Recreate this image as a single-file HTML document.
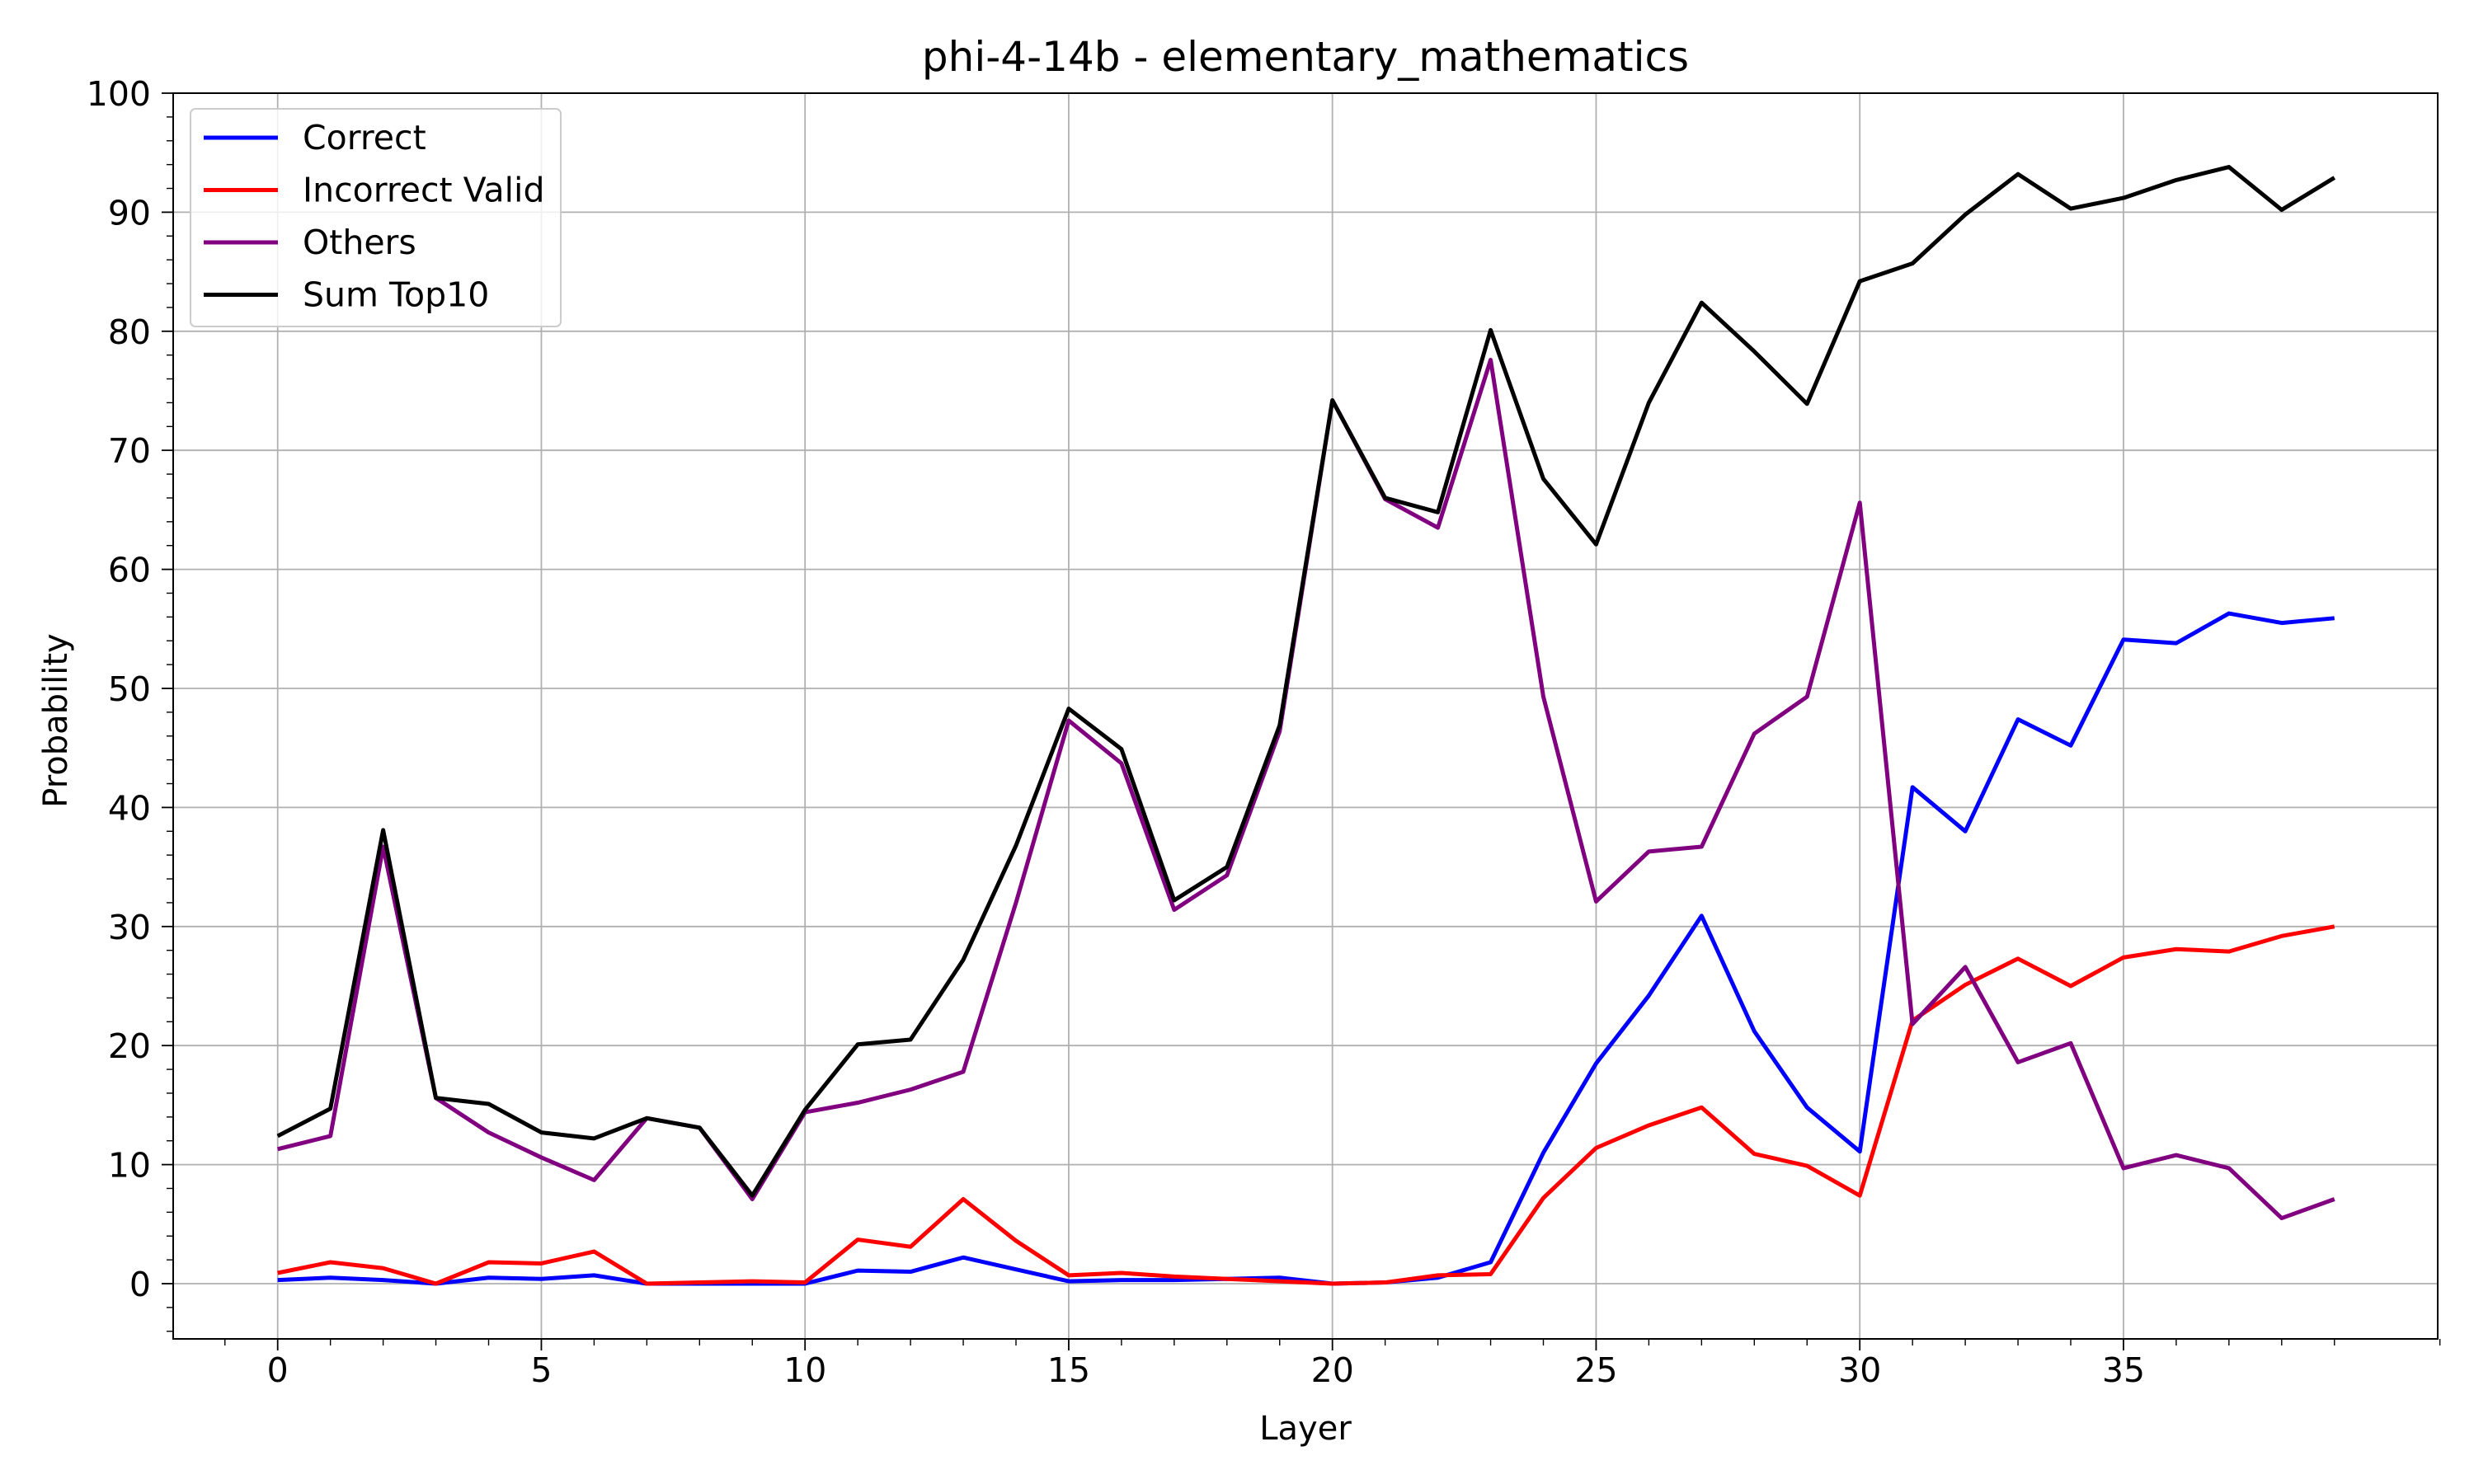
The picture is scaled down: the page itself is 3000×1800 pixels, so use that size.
<!DOCTYPE html>
<html><head><meta charset="utf-8"><style>
html,body{margin:0;padding:0;background:#fff;}
svg{display:block;font-family:"DejaVu Sans","Liberation Sans",sans-serif;}
</style></head><body>
<svg id="chart" width="3000" height="1800" viewBox="0 0 3000 1800" xmlns="http://www.w3.org/2000/svg">
<rect width="3000" height="1800" fill="#fff"/>
<g id="grid"></g>
<g id="series"></g>
<rect x="210" y="113" width="2746" height="1511" fill="none" stroke="#000" stroke-width="2"/>
<g id="ticks"></g>
<text x="1583" y="86" font-size="50" text-anchor="middle">phi-4-14b - elementary_mathematics</text>
<text x="1583" y="1746" font-size="40" text-anchor="middle">Layer</text>
<text x="0" y="0" font-size="40" text-anchor="middle" transform="translate(81,874) rotate(-90)">Probability</text>
<g id="legend"></g>
</svg>
<script>
const layers = Array.from({length:40},(_,i)=>i);
const correct = [0.3,0.5,0.3,0,0.5,0.4,0.7,0,0,0,0,1.1,1.0,2.2,1.2,0.2,0.3,0.3,0.4,0.5,0,0.1,0.5,1.8,11,18.5,24.2,30.9,21.2,14.8,11.1,41.7,38,47.4,45.2,54.1,53.8,56.3,55.5,55.9];
const incorrectValid = [0.9,1.8,1.3,0,1.8,1.7,2.7,0,0.1,0.2,0.1,3.7,3.1,7.1,3.6,0.7,0.9,0.6,0.4,0.2,0,0.1,0.7,0.8,7.2,11.4,13.3,14.8,10.9,9.9,7.4,22.1,25.1,27.3,25,27.4,28.1,27.9,29.2,30];
const others = [11.3,12.4,36.7,15.6,12.7,10.6,8.7,13.9,13.1,7.1,14.4,15.2,16.3,17.8,32,47.3,43.7,31.4,34.3,46.4,74.2,65.9,63.5,77.6,49.3,32.1,36.3,36.7,46.2,49.3,65.6,21.8,26.6,18.6,20.2,9.7,10.8,9.7,5.5,7.1];
const sumTop10 = [12.4,14.7,38.1,15.6,15.1,12.7,12.2,13.9,13.1,7.4,14.6,20.1,20.5,27.2,36.8,48.3,44.9,32.2,35,46.9,74.2,66,64.8,80.1,67.6,62.1,74,82.4,78.3,73.9,84.2,85.7,89.8,93.2,90.3,91.2,92.7,93.8,90.2,92.9];
const xTicks = [0,5,10,15,20,25,30,35];
const yTicks = [0,10,20,30,40,50,60,70,80,90,100];

const NS="http://www.w3.org/2000/svg";
const X0=336.7, XS=63.95, Y0=1557, YS=14.44;
const sx=v=>X0+v*XS, sy=v=>Y0-v*YS;
function mk(tag,attrs,parent,txt){const e=document.createElementNS(NS,tag);for(const k in attrs)e.setAttribute(k,attrs[k]);if(txt!==undefined)e.textContent=txt;parent.appendChild(e);return e;}
const grid=document.getElementById('grid'), ticks=document.getElementById('ticks'), series=document.getElementById('series'), legend=document.getElementById('legend');

xTicks.forEach(t=>{
  const g=mk('line',{x1:sx(t),x2:sx(t),y1:113,y2:1624,stroke:'#b0b0b0','stroke-width':1.8},grid);
  
  
  const tk=mk('line',{x1:sx(t),x2:sx(t),y1:1624,y2:1638,stroke:'#000','stroke-width':1.8},ticks);
  
  
  const l=mk('text',{x:sx(t),y:1676,'font-size':41,'text-anchor':'middle'},ticks,String(t));
  
  
});
for(let t=-1;t<=41;t++){
  if(t%5===0) continue;
  const m=mk('line',{x1:sx(t),x2:sx(t),y1:1624,y2:1632,stroke:'#000','stroke-width':1.4},ticks);
  
  
}
yTicks.forEach(t=>{
  const g=mk('line',{x1:210,x2:2956,y1:sy(t),y2:sy(t),stroke:'#b0b0b0','stroke-width':1.8},grid);
  
  
  const tk=mk('line',{x1:196,x2:210,y1:sy(t),y2:sy(t),stroke:'#000','stroke-width':1.8},ticks);
  
  
  const l=mk('text',{x:183,y:sy(t)+15,'font-size':41,'text-anchor':'end'},ticks,String(t));
  
  
});
for(let t=-4;t<=100;t+=2){
  if(t%10===0) continue;
  const m=mk('line',{x1:202,x2:210,y1:sy(t),y2:sy(t),stroke:'#000','stroke-width':1.4},ticks);
  
  
}
const defs=[['Correct',correct,'#0000ff','correct-line'],['Incorrect Valid',incorrectValid,'#ff0000','incorrect-valid-line'],['Others',others,'#800080','others-line'],['Sum Top10',sumTop10,'#000000','sum-top10-line']];
defs.forEach(([name,vals,col,dn])=>{
  const p=mk('polyline',{points:vals.map((v,i)=>sx(layers[i])+','+sy(v)).join(' '),fill:'none',stroke:col,'stroke-width':5,'stroke-linejoin':'round'},series);
  
  
});
const box=mk('rect',{x:231,y:132,width:449,height:264,rx:6,fill:'#fff','fill-opacity':0.8,stroke:'#ccc','stroke-width':2},legend);


defs.forEach(([name,vals,col],i)=>{
  const y=167+i*63.5;
  const ln=mk('line',{x1:247,x2:337,y1:y,y2:y,stroke:col,'stroke-width':5},legend);
  
  
  const t=mk('text',{x:367,y:y+14,'font-size':41},legend,name);
  
  
});
</script>
</body></html>
